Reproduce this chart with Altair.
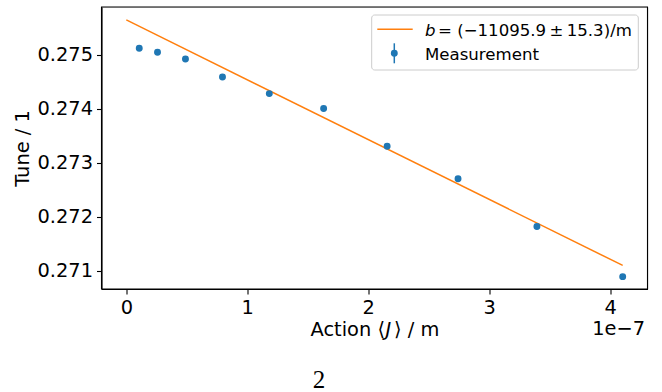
import altair as alt
import pandas as pd

# Data (x in units of 1e-7 m)
action = [0.107, 0.258, 0.489, 0.795, 1.182, 1.631, 2.156, 2.742, 3.394, 4.103]
tune = [0.275124, 0.275050, 0.274926, 0.274593, 0.274284, 0.274006,
        0.273309, 0.272704, 0.271820, 0.270889]
fit_x = [0.0, 4.103]
fit_y = [0.275650, 0.271097]
x_ticks = [0, 1, 2, 3, 4]
y_ticks = [0.271, 0.272, 0.273, 0.274, 0.275]

W, H = 546, 282
L, T = 101.5, 7
FONT = "DejaVu Sans"
FS = 19.4
LFS = 16.6
BLUE = "#1f77b4"
ORANGE = "#ff7f0e"

pts = pd.DataFrame({"x": action, "y": tune})
fit = pd.DataFrame({"x": fit_x, "y": fit_y})
one = alt.Data(values=[{"a": 1}])

xs = alt.Scale(domain=[-0.205, 4.308], nice=False, zero=False)
ys = alt.Scale(domain=[0.27066, 0.27589], nice=False, zero=False)

xax = alt.Axis(values=x_ticks, format="d", title=None, grid=False,
               labelFont=FONT, labelFontSize=FS, labelColor="black",
               tickColor="black", tickSize=5, tickWidth=1.1,
               domainColor="black", domainWidth=1.1, labelPadding=4)
yax = alt.Axis(values=y_ticks, format=".3f", title="Tune / 1", grid=False,
               labelFont=FONT, labelFontSize=FS, labelColor="black",
               tickColor="black", tickSize=5, tickWidth=1.1,
               domainColor="black", domainWidth=1.1, labelPadding=4,
               titleFont=FONT, titleFontSize=FS, titleFontWeight="normal",
               titleColor="black", titlePadding=4)

points = alt.Chart(pts).mark_circle(size=48, opacity=1, color=BLUE).encode(
    x=alt.X("x:Q", scale=xs, axis=xax),
    y=alt.Y("y:Q", scale=ys, axis=yax),
)
line = alt.Chart(fit).mark_line(color=ORANGE, strokeWidth=1.5).encode(
    x=alt.X("x:Q", scale=xs), y=alt.Y("y:Q", scale=ys)
)

def px(v):
    return alt.value(v - L)

def py(v):
    return alt.value(v - T)

frame = alt.Chart(one).mark_rect(fillOpacity=0, stroke="black", strokeWidth=1.1).encode(
    x=alt.value(0), x2=alt.value(W), y=alt.value(0), y2=alt.value(H))

leg_box = alt.Chart(one).mark_rect(fill="white", fillOpacity=0.8, stroke="#cccccc",
                                   strokeWidth=1, cornerRadius=3).encode(
    x=px(371.7), x2=px(638.3), y=py(15), y2=py(70))
leg_line = alt.Chart(one).mark_rule(color=ORANGE, strokeWidth=1.5).encode(
    x=px(377.3), x2=px(412.7), y=py(29.3))
leg_err = alt.Chart(one).mark_rule(color=BLUE, strokeWidth=1.5).encode(
    x=px(394.3), y=py(43.3), y2=py(63.3))
leg_pt = alt.Chart(one).mark_circle(size=48, opacity=1, color=BLUE).encode(
    x=px(394.3), y=py(53.3))

def txt(s, x, y, size=LFS, align="left", style="normal", font=FONT, baseline="alphabetic"):
    return alt.Chart(one).mark_text(text=s, align=align, baseline=baseline, font=font,
                                    fontSize=size, fontStyle=style, color="black").encode(
        x=px(x), y=py(y))

leg_t1 = txt("b", 425, 36, style="italic")
leg_t2 = txt("= (\u221211095.9\u2009\u00b1\u200915.3)/m", 438, 36)
leg_t3 = txt("Measurement", 425, 60)

xt1 = txt("Action \u27e8", 385, 336, size=FS, align="right")
xt2 = txt("J", 385.5, 336, size=FS, style="italic")
xt3 = txt("\u27e9 / m", 394, 336, size=FS)
offset = txt("1e\u22127", 645, 335, size=FS, align="right")
page = txt("2", 319, 388, size=25, align="center", font="Liberation Serif")

chart = alt.layer(
    line, points, frame, leg_box, leg_line, leg_err, leg_pt, leg_t1, leg_t2, leg_t3,
    xt1, xt2, xt3, offset, page
).properties(
    width=W, height=H,
    autosize=alt.AutoSizeParams(type="none"),
    padding={"left": L, "top": T, "right": 662 - L - W, "bottom": 392 - T - H},
).configure_view(stroke="black", strokeWidth=1.1).configure(background="white")

chart.save("out.html", embed_options={"renderer": "svg", "actions": False})
